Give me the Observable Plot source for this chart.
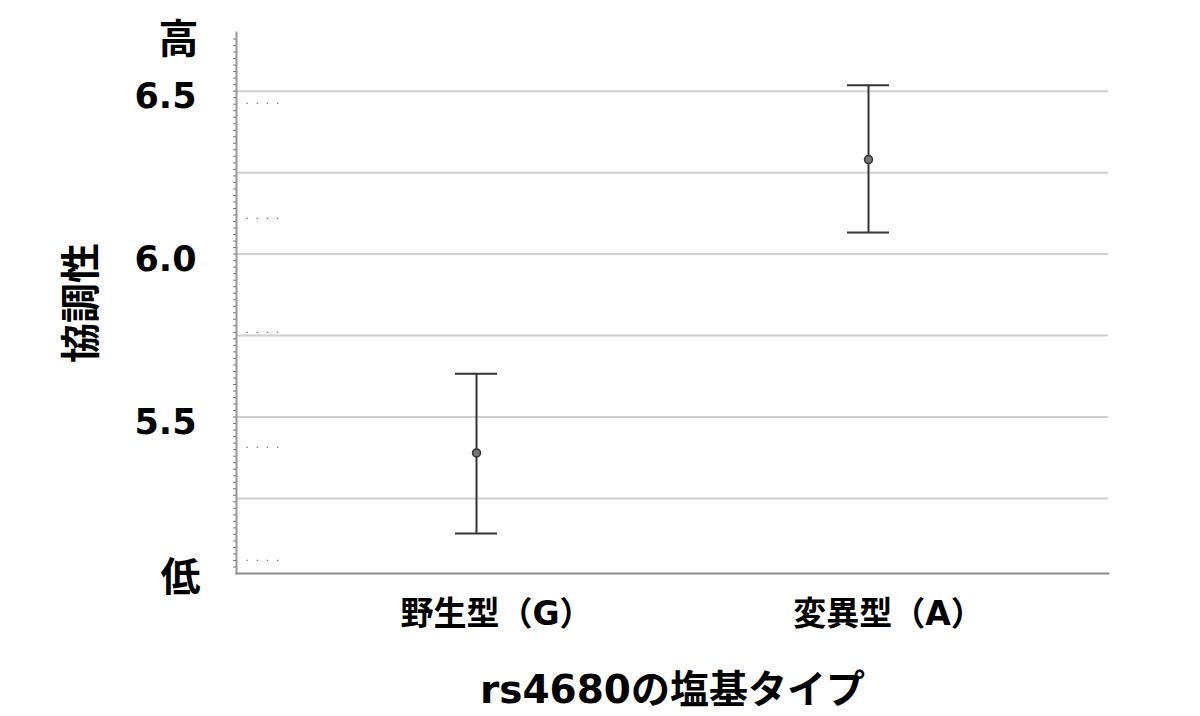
<!DOCTYPE html>
<html>
<head>
<meta charset="utf-8">
<script src="https://cdn.jsdelivr.net/npm/d3@7"></script>
<script src="https://cdn.jsdelivr.net/npm/@observablehq/plot@0.6"></script>
<style>
  html, body { margin: 0; padding: 0; background: #fff; }
  #chart { width: 1200px; height: 716px; }
</style>
</head>
<body>
<div id="chart"></div>
<script>
// Genotype groups and mean "協調性" with interval bounds
const categories = ["野生型（G）", "変異型（A）"];
const means = [5.39, 6.29];
const lower = [5.143, 6.066];
const upper = [5.633, 6.518];

// Axis configuration
const yDomain = [5.02, 6.68];
const gridValues = [5.25, 5.5, 5.75, 6.0, 6.25, 6.5];
const tickValues = [5.5, 6.0, 6.5];
const minorTicks = d3.range(5.04, 6.68, 0.02);
const dotRows = [6.46, 6.108, 5.759, 5.406, 5.06];

const rows = categories.map((c, i) => ({type: c, mean: means[i], lo: lower[i], hi: upper[i]}));

const font = "'DejaVu Sans', 'Noto Sans CJK JP', sans-serif";
const dotted = ".\u2002\u2009.\u2002\u2009.\u2002\u2009.";

const chart = Plot.plot({
  width: 1200,
  height: 716,
  marginLeft: 236,
  marginRight: 92,
  marginTop: 32,
  marginBottom: 143,
  style: {fontFamily: font, background: "#fff", color: "#000"},
  x: {type: "band", domain: categories, paddingInner: 0.893, paddingOuter: 0.556, label: null},
  y: {domain: yDomain, label: null},
  marks: [
    // horizontal grid
    Plot.gridY(gridValues, {stroke: "#cfcfcf", strokeOpacity: 1, strokeWidth: 2}),
    // faint dotted guides near the left axis
    Plot.text(dotRows, {y: d => d, text: () => dotted, frameAnchor: "left", textAnchor: "start", dx: 9, dy: -3, fontSize: 10, fill: "#555"}),
    // axis lines
    Plot.frame({anchor: "left", stroke: "#9a9a9a", strokeWidth: 2}),
    Plot.frame({anchor: "bottom", stroke: "#8a8a8a", strokeWidth: 2}),
    Plot.axisY(minorTicks, {tickSize: 3, tickFormat: () => "", stroke: "#777", strokeWidth: 1}),
    // tick labels
    Plot.axisY(tickValues, {tickSize: 0, tickPadding: 40, dy: 6, tickFormat: d3.format(".1f"), fontSize: 35, fontWeight: "bold", fill: "#000"}),
    Plot.axisX({tickSize: 0, tickPadding: 28, fontSize: 33, fontWeight: "bold", fill: "#000", dx: 20}),
    // 高 / 低 end markers
    Plot.text(["高"], {frameAnchor: "top-left", textAnchor: "end", lineAnchor: "middle", dx: -38, dy: 8, fontSize: 40, fontWeight: "bold", fill: "#000"}),
    Plot.text(["低"], {frameAnchor: "bottom-left", textAnchor: "end", lineAnchor: "middle", dx: -36, dy: 5, fontSize: 40, fontWeight: "bold", fill: "#000"}),
    // axis titles
    Plot.text(["協調性"], {frameAnchor: "left", textAnchor: "middle", lineAnchor: "middle", rotate: -90, dx: -154, fontSize: 40, fontWeight: "bold", fill: "#000"}),
    Plot.text(["rs4680の塩基タイプ"], {frameAnchor: "bottom", lineAnchor: "middle", dy: 117, fontSize: 39, fontWeight: "bold", fill: "#000"}),
    // error bars
    Plot.ruleX(rows, {x: "type", y1: "lo", y2: "hi", stroke: "#333", strokeWidth: 2}),
    Plot.tickY(rows, {x: "type", y: "hi", stroke: "#333", strokeWidth: 2}),
    Plot.tickY(rows, {x: "type", y: "lo", stroke: "#333", strokeWidth: 2}),
    Plot.dot(rows, {x: "type", y: "mean", r: 4, fill: "#777", stroke: "#333", strokeWidth: 1.5})
  ]
});

document.getElementById("chart").appendChild(chart);
</script>
</body>
</html>
